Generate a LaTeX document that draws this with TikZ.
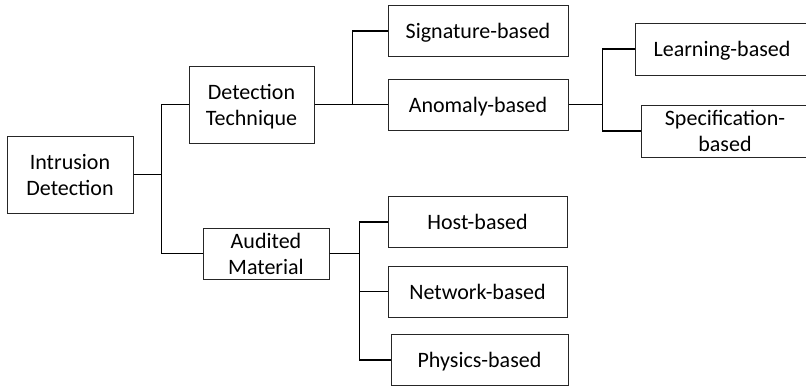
\documentclass[tikz,border=0pt]{standalone}
\usepackage{fontspec}
\setmainfont{Carlito}
\usetikzlibrary{positioning}

\begin{document}
\begin{tikzpicture}[x=1pt, y=-1pt,
        box/.style={draw=black!85, line width=1pt, align=center, inner sep=0pt,
            text depth=0pt, font=\fontsize{22}{26}\selectfont},
        wide/.style={box, minimum width=180pt, minimum height=51pt},
        link/.style={line width=1.2pt}
    ]
        \useasboundingbox (0,0) rectangle (806,388);
        \node[box, minimum width=126pt, minimum height=77pt] (intrusion) at (70,174.5) {Intrusion\\Detection};
        \node[box, minimum width=125pt, minimum height=77pt] (technique) at (251.5,104.5) {Detection\\Technique};
        \node[box, minimum width=126pt, minimum height=51pt] (audited) at (266,253.5) {Audited\\Material};
        \node[wide] (signature) at (478,31) {Signature-based};
        \node[wide] (anomaly) at (478,104.5) {Anomaly-based};
        \node[box, minimum width=174pt, minimum height=52pt] (learning) at (722,49) {Learning-based};
        \node[box, minimum width=168pt, minimum height=52pt] (specification) at (725,131) {Specification-\\based};
        \node[wide, minimum width=179pt] (host) at (477.5,222) {Host-based};
        \node[wide, minimum width=179pt] (network) at (477.5,291.5) {Network-based};
        \node[wide, minimum width=177pt] (physics) at (479.5,360) {Physics-based};

        \draw[link] (intrusion.east) -- +(28,0) |- (technique.west);
        \draw[link] (intrusion.east) -- +(28,0) |- (audited.west);
        \draw[link] (technique.east) -- +(38,0) |- (signature.west);
        \draw[link] (technique.east) -- (anomaly.west);
        \draw[link, line width=1.6pt] (anomaly.east) -- +(34,0);
        \draw[link] (anomaly.east) -- +(34,0) |- (learning.west);
        \draw[link] (anomaly.east) -- +(34,0) |- (specification.west);
        \draw[link, line width=1.6pt] (audited.east) -- +(30,0);
        \draw[link] (audited.east) -- +(30,0) |- (host.west);
        \draw[link] (audited.east) -- +(30,0) |- (network.west);
        \draw[link] (audited.east) -- +(30,0) |- (physics.west);
\end{tikzpicture}
\end{document}
